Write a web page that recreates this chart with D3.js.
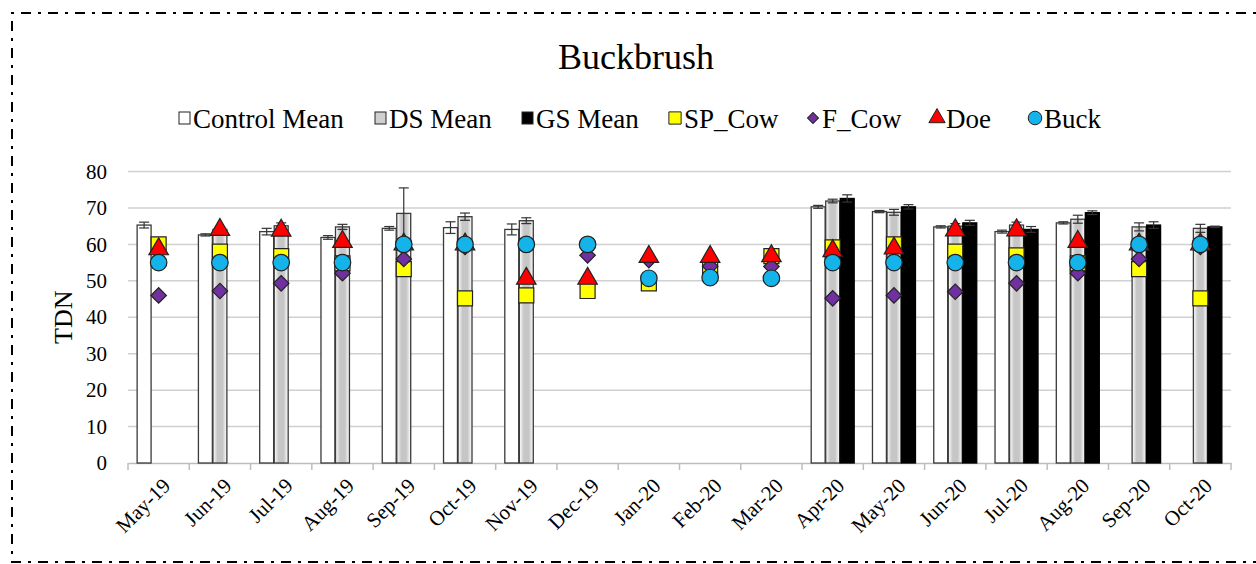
<!DOCTYPE html>
<html>
<head>
<meta charset="utf-8">
<script src="https://cdn.jsdelivr.net/npm/d3@7"></script>
<style>
  html, body { margin: 0; padding: 0; background: #fff; overflow: hidden; }
  svg { display: block; }
  svg text { font-family: "Liberation Serif", "Times New Roman", serif; fill: #000; }
</style>
</head>
<body>
<svg id="chart" width="1256" height="564"></svg>
<script>
// ---------------- data ----------------
const categories = ["May-19","Jun-19","Jul-19","Aug-19","Sep-19","Oct-19","Nov-19","Dec-19","Jan-20","Feb-20","Mar-20","Apr-20","May-20","Jun-20","Jul-20","Aug-20","Sep-20","Oct-20"];
const controlMean = [65.3, 62.6, 63.5, 61.9, 64.4, 64.6, 64.1, null, null, null, null, 70.3, 69.0, 64.8, 63.5, 65.9, null, null];
const controlErr  = [0.8, 0.3, 0.9, 0.5, 0.5, 1.6, 1.5, null, null, null, null, 0.4, 0.3, 0.3, 0.4, 0.3, null, null];
const dsMean      = [null, 64.1, 65.1, 64.8, 68.5, 67.6, 66.5, null, null, null, null, 71.9, 68.8, 65.0, 65.3, 66.9, 64.8, 64.4];
const dsErr       = [null, 0.4, 0.8, 0.7, 7.0, 1.0, 0.8, null, null, null, null, 0.5, 0.8, 0.7, 0.8, 1.1, 1.1, 1.1];
const gsMean      = [null, null, null, null, null, null, null, null, null, null, null, 72.6, 70.3, 65.9, 64.1, 68.7, 65.3, 64.8];
const gsErr       = [null, null, null, null, null, null, null, null, null, null, null, 1.0, 0.6, 0.7, 0.8, 0.5, 0.9, 0.2];
const spCow = [60.0, 58.0, 56.8, 54.8, 53.2, 45.2, 46.0, 47.2, 49.3, 53.4, 56.8, 59.2, 60.0, 58.0, 57.0, 54.8, 53.2, 45.2];
const fCow  = [46.0, 47.2, 49.3, 52.1, 56.0, 59.3, 60.0, 57.0, 55.7, 54.0, 53.9, 45.2, 46.0, 47.0, 49.3, 52.1, 56.0, 59.3];
const doe   = [58.7, 64.0, 63.8, 60.7, 60.0, 60.0, 50.6, 50.6, 56.6, 56.6, 56.8, 58.2, 58.9, 63.9, 63.9, 60.7, 60.0, 60.0];
const buck  = [55.0, 55.0, 55.0, 55.0, 60.0, 60.0, 60.0, 60.0, 50.7, 50.9, 50.7, 55.0, 55.0, 55.0, 55.0, 55.0, 60.0, 60.0];
const yTicks = [0, 10, 20, 30, 40, 50, 60, 70, 80];
const barSeries = ["Control Mean", "DS Mean", "GS Mean"];
const markerSeries = ["SP_Cow", "F_Cow", "Doe", "Buck"];
const legendLabels = ["Control Mean", "DS Mean", "GS Mean", "SP_Cow", "F_Cow", "Doe", "Buck"];
const titleText = "Buckbrush";
const yLabel = "TDN";

// ---------------- layout ----------------
const FONT = "Liberation Serif, Times New Roman, serif";
const svg = d3.select("#chart");
const plot = { left: 128, right: 1231, top: 171.5, bottom: 463 };

const defs = svg.append("defs");
const grad = defs.append("linearGradient").attr("id", "dsGrad").attr("x1", "0").attr("x2", "1").attr("y1", "0").attr("y2", "0");
grad.append("stop").attr("offset", "0").attr("stop-color", "#ffffff");
grad.append("stop").attr("offset", "0.32").attr("stop-color", "#c6c6c6");
grad.append("stop").attr("offset", "0.68").attr("stop-color", "#c6c6c6");
grad.append("stop").attr("offset", "1").attr("stop-color", "#ffffff");

// border (dash-dot), open on the right
svg.append("path")
  .attr("d", "M1300,13 H12 V562 H1300")
  .attr("fill", "none").attr("stroke", "#000").attr("stroke-width", 2)
  .attr("stroke-dasharray", "10,7,3,7");

const x0 = d3.scaleBand().domain(categories).range([plot.left, plot.right]).padding(0);
const bw = x0.bandwidth();
const x1 = d3.scaleBand().domain(barSeries).range([bw / 2 - 21.5, bw / 2 + 21.5]).paddingInner(0.04);
const y = d3.scaleLinear().domain([0, 80]).range([plot.bottom, plot.top]);

// gridlines
svg.append("g").selectAll("line").data(yTicks.filter(d => d > 0)).join("line")
  .attr("x1", plot.left).attr("x2", plot.right)
  .attr("y1", d => y(d)).attr("y2", d => y(d))
  .attr("stroke", "#d0d0d0").attr("stroke-width", 1.5);

// y tick labels
const yAxis = d3.axisLeft(y).tickValues(yTicks).tickSize(0).tickPadding(0).tickFormat(d3.format("d"));
const gy = svg.append("g").attr("transform", `translate(${plot.left - 21},0)`).call(yAxis);
gy.select(".domain").remove();
gy.selectAll("text").attr("font-family", FONT).attr("font-size", 21).attr("fill", "#000");

// y axis label
svg.append("text")
  .attr("transform", `translate(63,${(plot.top + plot.bottom) / 2}) rotate(-90)`)
  .attr("text-anchor", "middle").attr("dominant-baseline", "central")
  .attr("font-family", FONT).attr("font-size", 26).text(yLabel);

// x axis line and ticks
const xAxis = d3.axisBottom(x0).tickSize(0).tickFormat("");
const gx = svg.append("g").attr("transform", `translate(0,${plot.bottom})`).call(xAxis);
gx.select(".domain").attr("stroke", "#bdbdbd").attr("stroke-width", 1.5);
const boundaries = categories.map(c => x0(c)).concat([plot.right]);
svg.append("g").selectAll("line").data(boundaries).join("line")
  .attr("x1", d => d).attr("x2", d => d)
  .attr("y1", plot.bottom).attr("y2", plot.bottom + 7)
  .attr("stroke", "#bdbdbd").attr("stroke-width", 1.5);

// x labels
svg.append("g").selectAll("text").data(categories).join("text")
  .attr("transform", c => `translate(${x0(c) + bw / 2 + 8},${plot.bottom + 19}) rotate(-45)`)
  .attr("text-anchor", "end").attr("dominant-baseline", "central")
  .attr("font-family", FONT).attr("font-size", 21).text(c => c);

// bars
const barData = [];
categories.forEach((c, i) => {
  [[controlMean, controlErr, "Control Mean"], [dsMean, dsErr, "DS Mean"], [gsMean, gsErr, "GS Mean"]].forEach(([vals, errs, s]) => {
    if (vals[i] != null) barData.push({ c, s, v: vals[i], e: errs[i] });
  });
});
const fillFor = s => s === "Control Mean" ? "#ffffff" : s === "DS Mean" ? "url(#dsGrad)" : "#000000";
const strokeFor = s => s === "GS Mean" ? "#000" : "#3a3a3a";

svg.append("g").selectAll("rect").data(barData).join("rect")
  .attr("x", d => x0(d.c) + x1(d.s))
  .attr("width", x1.bandwidth())
  .attr("y", d => y(d.v))
  .attr("height", d => y(0) - y(d.v))
  .attr("fill", d => fillFor(d.s))
  .attr("stroke", d => strokeFor(d.s)).attr("stroke-width", 1.3);

// error bars
const eg = svg.append("g").attr("stroke", "#333").attr("stroke-width", 1.2);
barData.forEach(d => {
  const cx = x0(d.c) + x1(d.s) + x1.bandwidth() / 2;
  eg.append("line").attr("x1", cx).attr("x2", cx).attr("y1", y(d.v - d.e)).attr("y2", y(d.v + d.e));
  [d.v - d.e, d.v + d.e].forEach(v => {
    eg.append("line").attr("x1", cx - 5).attr("x2", cx + 5).attr("y1", y(v)).attr("y2", y(v));
  });
});

// markers
const markerStyle = {
  "SP_Cow": { type: d3.symbolSquare, size: 225, fill: "#ffff00", rot: 0 },
  "F_Cow":  { type: d3.symbolSquare, size: 120, fill: "#7030a0", rot: 45 },
  "Doe":    { type: d3.symbolTriangle, size: 165, fill: "#ff0000", rot: 0 },
  "Buck":   { type: d3.symbolCircle, size: 215, fill: "#14b4ea", rot: 0 }
};
const markerValues = { "SP_Cow": spCow, "F_Cow": fCow, "Doe": doe, "Buck": buck };
markerSeries.forEach(s => {
  const st = markerStyle[s];
  svg.append("g").selectAll("path").data(markerValues[s].map((v, i) => ({ c: categories[i], v })).filter(d => d.v != null))
    .join("path")
    .attr("transform", d => `translate(${x0(d.c) + bw / 2},${y(d.v)}) rotate(${st.rot})`)
    .attr("d", d3.symbol().type(st.type).size(st.size))
    .attr("fill", st.fill).attr("stroke", "#222").attr("stroke-width", 1.2);
});

// title
svg.append("text").attr("x", 636).attr("y", 69).attr("text-anchor", "middle")
  .attr("font-family", FONT).attr("font-size", 36).text(titleText);

// legend
const legendX = [184, 380, 527, 675, 813, 937, 1035];
const legendY = 118;
const lg = svg.append("g");
legendLabels.forEach((lab, i) => {
  const g = lg.append("g").attr("transform", `translate(${legendX[i]},${legendY})`);
  if (i < 3) {
    g.append("rect").attr("x", -5).attr("y", -6).attr("width", 11).attr("height", 12)
      .attr("fill", i === 0 ? "#fff" : i === 1 ? "#d0d0d0" : "#000").attr("stroke", "#222").attr("stroke-width", 1);
  } else {
    const st = markerStyle[lab];
    const sz = lab === "SP_Cow" ? 150 : lab === "F_Cow" ? 60 : lab === "Doe" ? 115 : 145;
    g.append("path").attr("d", d3.symbol().type(st.type).size(sz)())
      .attr("transform", `rotate(${st.rot})`)
      .attr("fill", st.fill).attr("stroke", "#222").attr("stroke-width", 1);
  }
  g.append("text").attr("x", i >= 3 ? 9 : 9).attr("y", 1).attr("dominant-baseline", "central")
    .attr("font-family", FONT).attr("font-size", 27).text(lab);
});
</script>
</body>
</html>
